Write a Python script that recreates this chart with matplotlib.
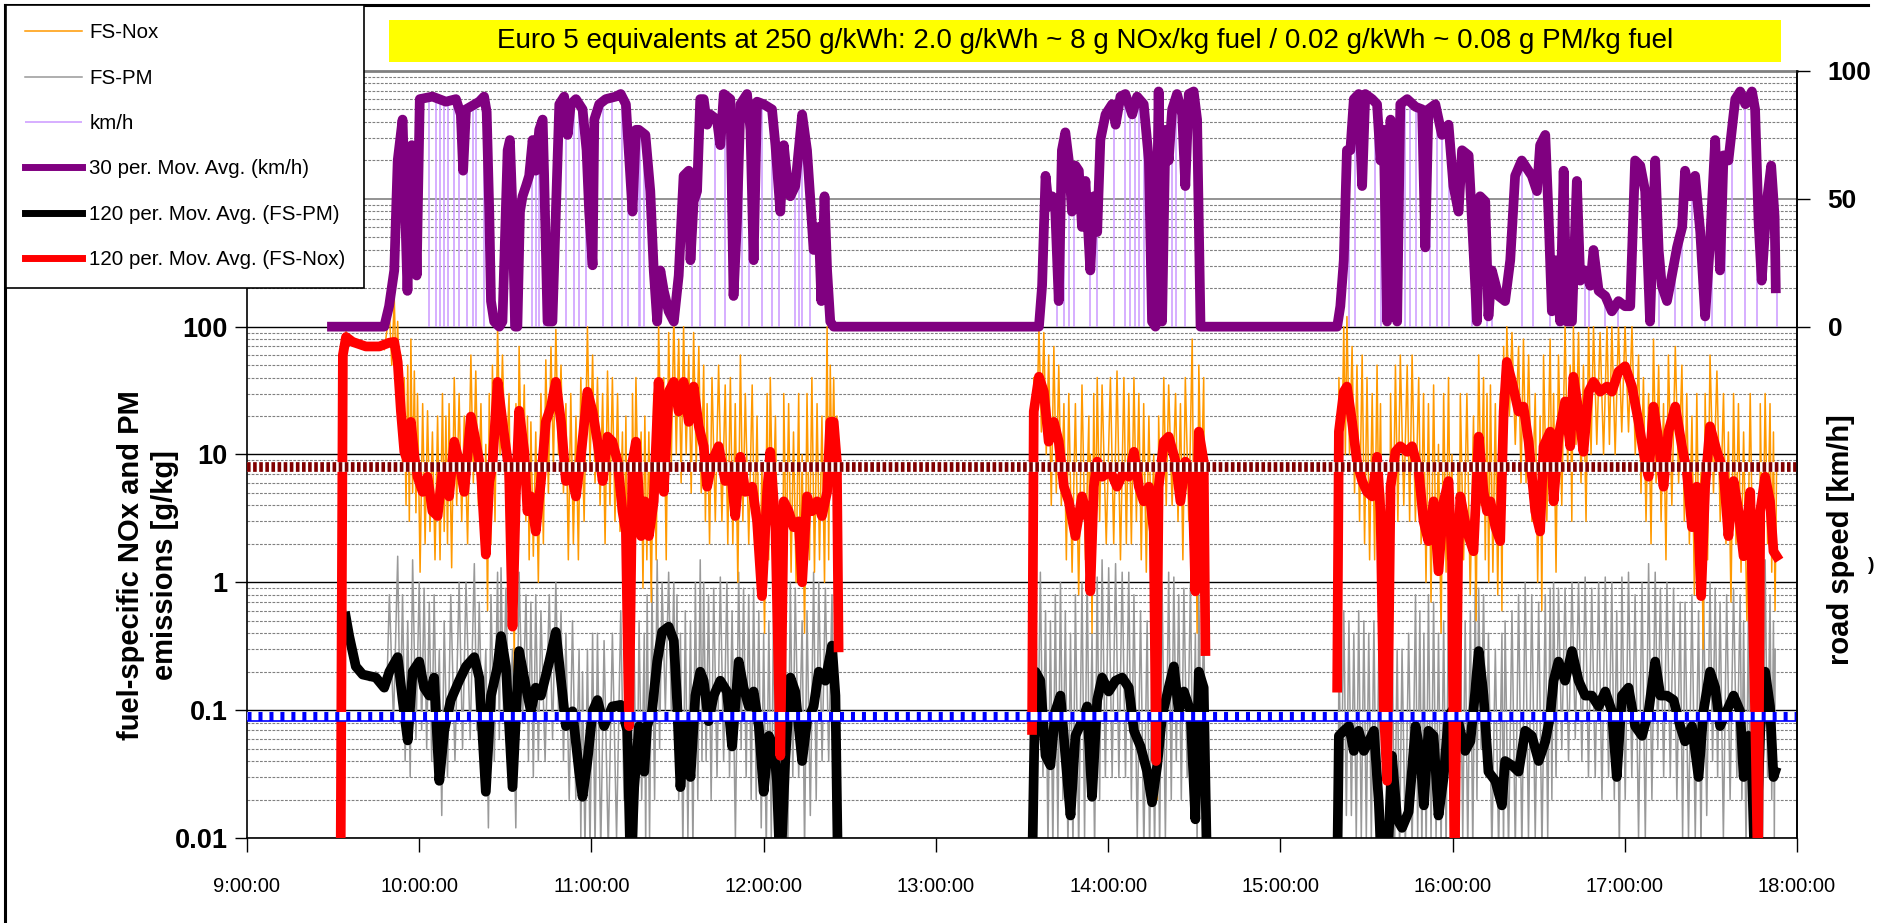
import numpy as np
import matplotlib.pyplot as plt
from matplotlib.ticker import LogLocator, NullFormatter
from matplotlib.patches import Rectangle
from matplotlib.lines import Line2D

plt.rcParams['font.family'] = ['Liberation Sans', 'DejaVu Sans']
plt.rcParams['lines.scale_dashes'] = False

nan = np.nan

# time is minutes after 9:00:00, NaN splits the three trips
# road speed, 30 s moving average [km/h]
t_speed = [
    29.6, 47.8, 49.5, 51.3, 52.5, 54.2, 55.9, 57.4, 58.3, 59.1,
    60.2, 64.6, 69.3, 72.8, 74.5, 75.3, 76.3, 80.9, 82.6, 83.5,
    84.4, 85.0, 86.1, 87.9, 89.0, 90.8, 91.6, 92.5, 93.4, 94.2,
    95.1, 96.0, 97.2, 98.3, 99.5, 100.6, 101.8, 103.0, 103.5, 104.7,
    106.4, 107.6, 108.8, 110.5, 111.7, 112.8, 114.6, 116.9, 118.3, 119.2,
    120.4, 121.0, 122.7, 125.0, 128.5, 130.2, 132.0, 134.3, 135.5, 136.5,
    138.8, 140.5, 141.7, 142.9, 144.0, 145.2, 146.9, 148.7, 150.4, 152.1,
    153.9, 154.5, 155.6, 156.8, 157.9, 159.1, 160.3, 161.4, 163.7, 164.9,
    166.1, 168.4, 169.5, 170.7, 171.9, 174.2, 175.4, 176.5, 177.7, 180.0,
    182.9, 184.1, 185.8, 187.0, 188.1, 189.3, 191.0, 193.4, 195.1, 196.3,
    197.4, 199.2, 200.1, 201.2, 202.1, 203.2, 204.4, 275.9, 277.0, 278.2,
    279.3, 280.5, 281.6, 282.8, 283.9, 285.1, 286.3, 287.4, 288.6, 289.8,
    290.9, 292.1, 293.8, 295.0, 296.2, 297.3, 299.1, 301.4, 302.6, 304.3,
    306.0, 308.4, 310.1, 312.4, 314.2, 315.3, 316.5, 317.6, 318.8, 320.0,
    321.1, 322.3, 324.0, 325.8, 326.9, 328.1, 329.8, 331.0, 332.2, 379.8,
    380.9, 382.1, 383.2, 384.4, 385.6, 387.3, 388.5, 389.6, 392.0, 393.7,
    394.9, 396.0, 397.2, 398.4, 399.5, 400.7, 401.8, 404.2, 407.1, 409.4,
    410.5, 411.6, 414.0, 416.3, 418.6, 420.3, 422.1, 423.3, 425.6, 427.3,
    428.5, 429.6, 431.4, 432.5, 433.7, 436.0, 438.3, 440.1, 441.8, 444.1,
    447.6, 449.4, 450.5, 452.3, 453.4, 454.6, 455.8, 457.5, 458.7, 459.8,
    461.6, 463.3, 464.5, 466.2, 468.0, 469.1, 470.9, 473.2, 475.5, 477.8,
    480.1, 481.9, 483.6, 485.4, 487.1, 488.8, 490.6, 491.8, 492.9, 494.7,
    496.4, 498.2, 500.0, 501.0, 502.8, 504.5, 506.3, 508.0, 509.7, 511.5,
    513.2, 514.4, 516.1, 518.5, 520.2, 522.0, 524.3, 525.4, 526.6, 527.7,
    529.5, 531.0, 532.2, 532.6]
speed_ma = [
    0, 0, 8, 22, 65, 81, 14, 71, 60, 20,
    89, 90, 88, 89, 83, 61, 85, 88, 90, 84,
    45, 10, 2, 0, 2, 69, 73, 45, 0, 0,
    45, 51, 55, 59, 73, 61, 77, 81, 60, 2,
    2, 45, 87, 90, 75, 87, 89, 85, 69, 45,
    24, 81, 87, 89, 90, 91, 87, 45, 77, 77,
    75, 53, 22, 2, 22, 14, 6, 2, 20, 59,
    61, 26, 49, 53, 89, 89, 79, 83, 81, 71,
    91, 89, 12, 41, 87, 91, 77, 26, 88, 87,
    85, 71, 45, 71, 59, 51, 55, 83, 69, 49,
    30, 39, 10, 51, 22, 2, 0, 0, 16, 59,
    47, 51, 45, 10, 69, 76, 65, 45, 63, 61,
    39, 57, 22, 51, 37, 73, 83, 87, 79, 90,
    91, 83, 90, 87, 65, 2, 0, 92, 2, 77,
    65, 85, 91, 83, 55, 91, 92, 81, 0, 0,
    8, 26, 69, 69, 89, 91, 55, 91, 89, 87,
    65, 77, 2, 81, 26, 2, 87, 89, 86, 85,
    31, 85, 87, 75, 79, 55, 45, 69, 67, 30,
    2, 51, 49, 4, 22, 12, 10, 26, 59, 65,
    59, 53, 71, 75, 45, 6, 26, 2, 61, 2,
    2, 57, 18, 22, 16, 30, 14, 12, 6, 10,
    8, 8, 65, 63, 53, 2, 65, 30, 16, 10,
    20, 31, 39, 61, 51, 59, 37, 4, 33, 73,
    22, 67, 65, 89, 92, 87, 92, 85, 41, 18,
    49, 63, 43, 15]

# raw km/h signal: moments where the reading falls to 0
drop_t = [
    63.3, 65.8, 67.2, 68.7, 70.2, 72.2, 73.9, 76.8, 78.6, 79.7,
    82.4, 91.9, 94.8, 99.2, 100.6, 101.8, 103.3, 111.3, 114.0, 115.7,
    118.0, 123.9, 127.3, 130.6, 132.6, 136.6, 137.0, 138.2, 155.0, 157.9,
    163.2, 166.6, 172.5, 174.8, 179.4, 182.9, 185.2, 191.0, 192.2, 193.4,
    196.3, 282.2, 284.6, 286.3, 288.1, 293.8, 296.2, 302.0, 306.0, 307.8,
    309.5, 310.7, 312.4, 322.3, 323.5, 326.9, 383.8, 386.1, 393.1, 394.9,
    403.6, 405.3, 407.1, 409.3, 412.2, 414.5, 416.3, 418.6, 426.7, 432.0,
    433.7, 444.1, 448.2, 454.0, 456.9, 466.2, 467.4, 473.2, 477.8, 488.3,
    491.8, 497.6, 500.0, 503.4, 508.0, 510.3, 514.9, 517.2, 521.9, 526.0,
    533.0]
drop_v = [
    90, 90, 89, 88, 88, 89, 86, 85, 86, 87,
    90, 70, 45, 72, 70, 77, 81, 78, 88, 88,
    80, 88, 90, 90, 88, 77, 76, 75, 40, 89,
    82, 90, 88, 90, 88, 85, 55, 55, 75, 83,
    49, 30, 72, 65, 50, 30, 40, 80, 91, 85,
    88, 90, 87, 85, 90, 60, 69, 89, 88, 65,
    89, 88, 86, 85, 85, 88, 75, 79, 40, 40,
    22, 65, 57, 40, 20, 22, 20, 12, 10, 30,
    30, 25, 39, 55, 20, 60, 67, 80, 88, 60,
    15]

# fuel-specific NOx [g/kg]: 120 s moving average and the raw spike range
t_nox = [
    32.6, 33.4, 34.5, 36.8, 41.4, 46.1, 49.6, 51.3, 52.5, 53.6,
    54.8, 56.0, 57.1, 58.3, 59.4, 61.2, 62.9, 64.6, 66.4, 68.1,
    69.3, 70.4, 72.2, 73.9, 75.7, 78.0, 79.7, 81.5, 83.2, 84.4,
    85.5, 87.3, 89.0, 91.3, 92.5, 93.7, 94.8, 96.6, 97.7, 98.9,
    100.6, 102.4, 104.1, 105.9, 107.6, 109.4, 111.1, 112.8, 114.6, 116.3,
    118.6, 120.4, 122.1, 123.9, 125.6, 127.3, 129.1, 130.8, 132.0, 133.1,
    134.3, 135.5, 137.3, 138.6, 140.0, 141.7, 143.4, 145.2, 146.9, 148.7,
    150.4, 152.1, 153.9, 155.6, 157.4, 159.1, 160.3, 162.0, 164.3, 166.6,
    168.4, 170.1, 171.9, 173.6, 176.0, 177.7, 179.4, 181.2, 182.3, 184.1,
    185.8, 187.0, 188.7, 190.4, 192.2, 193.4, 195.1, 196.8, 198.6, 200.3,
    202.1, 203.2, 204.4, 205.5, 206.1, nan,
    273.5, 274.1, 275.9, 277.6, 279.3, 281.1, 282.8, 284.6, 286.3, 288.6,
    290.9, 293.3, 293.8, 295.0, 296.2, 297.9, 300.8, 303.1, 305.5, 307.2,
    309.0, 310.7, 312.4, 314.2, 315.9, 316.7, 317.6, 319.4, 321.1, 323.5,
    325.2, 326.9, 329.3, 330.4, 331.6, 333.3, 333.9, nan,
    379.8, 380.4, 382.1, 383.2, 385.0, 386.7, 388.5, 390.2, 392.0, 393.7,
    394.9, 396.0, 397.2, 398.4, 400.1, 401.8, 404.2, 405.9, 408.2, 409.9,
    411.6, 413.4, 415.1, 416.9, 418.6, 419.8, 420.7, 421.9, 422.7, 425.0,
    427.3, 429.1, 430.8, 432.0, 433.2, 434.9, 436.6, 437.8, 438.9, 440.7,
    443.0, 444.7, 446.5, 448.8, 450.5, 451.7, 454.0, 455.2, 456.9, 459.2,
    461.0, 462.1, 463.9, 465.6, 467.4, 469.1, 471.4, 473.8, 475.5, 477.8,
    480.1, 482.5, 484.8, 486.5, 488.3, 490.0, 491.8, 493.5, 495.2, 497.6,
    499.9, 501.6, 503.4, 505.1, 506.6, 508.0, 509.7, 512.1, 514.4, 516.1,
    517.9, 519.6, 521.4, 523.7, 525.4, 526.4, 527.2, 528.9, 530.6, 531.8,
    532.9]
nox_ma = [
    0.005, 60, 83, 76, 70, 70, 75, 76, 53, 22,
    10.5, 8.8, 18, 9.7, 6.7, 5.1, 6.7, 3.6, 3.3, 7.4,
    5.6, 4.7, 12.6, 8.8, 5.1, 19.8, 12.6, 7.4, 1.65, 6.1,
    8.1, 37, 18, 7.4, 0.45, 5.1, 22, 10.5, 3.6, 4.7,
    2.5, 6.2, 18, 23.7, 37, 18, 6.2, 7.4, 4.7, 9.6,
    31, 21.7, 12.6, 6.2, 13.8, 12.6, 8.8, 3.6, 2.5, 0.075,
    8.8, 12.6, 2.3, 4.3, 2.3, 4.3, 37, 5.1, 31, 37,
    21.7, 37, 18, 34, 16.6, 11.6, 5.6, 8.8, 11.6, 6.2,
    8.1, 3.3, 9.6, 5.1, 5.6, 3.0, 0.78, 5.1, 10.5, 2.7,
    0.044, 4.3, 3.6, 2.7, 3.0, 1.0, 4.7, 3.6, 4.3, 3.3,
    5.1, 18, 18, 8.8, 0.31, nan,
    0.07, 21.7, 40.6, 31, 12.6, 18, 12.6, 5.6, 4.3, 2.3,
    4.7, 3.0, 0.85, 5.6, 8.8, 6.7, 7.4, 5.6, 7.4, 6.7,
    10.5, 5.6, 4.3, 5.6, 2.5, 0.04, 5.6, 12.6, 13.8, 8.8,
    4.3, 8.8, 7.4, 0.85, 15.1, 8.8, 0.29, nan,
    0.15, 15.1, 31, 34, 18, 8.8, 6.2, 5.1, 4.7, 9.6,
    3.6, 0.11, 0.028, 5.6, 10.5, 11.6, 10.5, 11.6, 7.4, 3.0,
    2.1, 4.3, 1.22, 4.3, 6.2, 1.46, 0.005, 1.46, 4.7, 2.5,
    1.75, 13.8, 5.1, 3.6, 4.3, 2.7, 2.1, 21.7, 53, 37,
    21.7, 23.7, 12.6, 3.6, 2.5, 11.6, 15.1, 4.3, 13.8, 26,
    11.6, 40.6, 21.7, 10.5, 31, 37, 31, 34, 31, 44.5,
    49, 34, 18, 10.5, 6.7, 23.7, 12.6, 5.6, 15.1, 23.7,
    11.6, 7.4, 2.7, 5.6, 0.78, 5.6, 16.6, 10.5, 7.4, 2.3,
    6.2, 3.6, 1.6, 5.1, 0.098, 0.005, 3.6, 6.7, 4.3, 1.75,
    1.6]
nox_hi = [
    0.005, 60, 92, 80, 73, 74, 130, 170, 110, 60,
    40, 50, 80, 45, 30, 25, 22, 15, 20, 30,
    20, 25, 40, 30, 20, 60, 45, 25, 12, 30,
    50, 100, 60, 30, 8, 25, 70, 35, 20, 18,
    15, 30, 55, 70, 95, 50, 25, 30, 20, 40,
    100, 60, 40, 30, 45, 40, 30, 15, 20, 5,
    30, 40, 15, 20, 15, 30, 100, 40, 90, 120,
    80, 100, 60, 90, 70, 50, 25, 40, 50, 35,
    40, 25, 60, 30, 35, 20, 8, 30, 40, 20,
    3, 30, 25, 15, 30, 10, 30, 40, 25, 20,
    100, 50, 40, 20, 0.31, nan,
    0.07, 40, 100, 90, 60, 70, 50, 25, 30, 25,
    35, 20, 10, 30, 40, 35, 40, 45, 40, 30,
    40, 30, 25, 20, 10, 2, 20, 40, 35, 30,
    25, 40, 80, 10, 50, 40, 0.29, nan,
    0.15, 40, 100, 120, 70, 50, 60, 40, 30, 50,
    25, 5, 3, 30, 50, 60, 50, 60, 40, 30,
    25, 35, 12, 30, 40, 10, 0.005, 8, 30, 30,
    20, 60, 40, 30, 35, 25, 30, 70, 100, 90,
    70, 80, 60, 30, 20, 60, 80, 30, 60, 100,
    50, 100, 90, 50, 100, 100, 90, 100, 100, 100,
    100, 100, 60, 40, 30, 80, 50, 25, 60, 70,
    50, 30, 20, 30, 8, 30, 60, 45, 30, 15,
    30, 25, 15, 30, 3, 0.005, 25, 30, 25, 15,
    8]
nox_lo = [
    0.005, 60, 75, 72, 67, 66, 50, 45, 25, 8,
    4, 3, 5, 3.5, 1.2, 2, 2.5, 1.5, 1.5, 2.5,
    2, 1.3, 4, 3, 2, 6, 4, 2, 0.6, 2,
    3, 10, 6, 2, 0.2, 2, 6, 3, 1.5, 1.6,
    1.0, 2, 5, 8, 10, 5, 1.5, 2, 1.5, 3,
    8, 6, 4, 2, 4, 3, 2.5, 1.2, 0.8, 0.05,
    3, 3, 0.9, 1.5, 0.7, 1.5, 10, 1.5, 8, 10,
    6, 10, 5, 8, 5, 3, 2, 3, 3, 2,
    2, 1, 3, 2, 2, 0.8, 0.4, 1.5, 3, 1,
    0.03, 1.5, 1.2, 1, 1, 0.4, 1.5, 1.2, 1.5, 1,
    1.5, 6, 6, 3, 0.31, nan,
    0.07, 10, 15, 10, 4, 5, 4, 1.5, 1.2, 0.8,
    1.5, 1, 0.4, 2, 3, 2, 2, 1.5, 2, 2,
    3, 1.5, 1.2, 2, 1, 0.02, 2, 4, 4, 3,
    1.5, 3, 2, 0.4, 5, 3, 0.29, nan,
    0.15, 5, 10, 10, 5, 3, 2, 1.5, 1.5, 3,
    1.2, 0.05, 0.015, 2, 3, 4, 3, 3, 2, 1,
    0.7, 1.2, 0.4, 1.2, 2, 0.5, 0.005, 0.6, 1.5, 0.8,
    0.5, 4, 1.5, 1, 1.2, 0.8, 0.6, 6, 20, 12,
    6, 6, 3, 1, 0.6, 3, 4, 1.2, 4, 8,
    3, 12, 6, 3, 10, 12, 10, 12, 10, 15,
    15, 10, 5, 3, 2, 6, 3, 1.5, 4, 6,
    3, 2, 0.8, 1.5, 0.3, 1.5, 5, 3, 2, 0.7,
    2, 1.2, 0.5, 1.5, 0.05, 0.005, 1, 2, 1.2, 0.6,
    0.8]

# fuel-specific PM [g/kg]: 120 s moving average and the raw spike range
t_pm = [
    34.4, 35.6, 37.9, 40.3, 44.9, 47.8, 49.6, 52.5, 54.2, 56.0,
    57.7, 60.0, 61.7, 63.5, 65.2, 67.0, 68.7, 71.0, 73.9, 76.3,
    79.2, 80.9, 83.2, 85.0, 87.3, 88.5, 90.2, 92.5, 94.8, 97.2,
    98.9, 100.6, 102.4, 105.3, 107.6, 109.4, 111.1, 113.4, 115.7, 116.9,
    118.6, 120.4, 122.1, 124.4, 127.3, 130.2, 132.5, 133.7, 134.9, 136.6,
    138.4, 139.4, 141.1, 142.9, 144.6, 146.9, 148.7, 149.8, 151.0, 152.7,
    154.5, 156.2, 157.9, 159.1, 160.8, 162.6, 164.9, 167.2, 169.0, 171.3,
    173.0, 174.8, 176.5, 178.3, 180.0, 181.8, 183.5, 184.6, 185.8, 187.5,
    189.3, 191.0, 193.4, 195.1, 197.4, 199.2, 201.5, 203.8, 205.0, 205.9, nan,
    273.5, 274.7, 276.4, 278.2, 279.9, 281.6, 283.4, 285.1, 286.9, 288.6,
    290.9, 292.7, 294.4, 296.2, 297.9, 300.2, 302.6, 304.9, 307.2, 309.0,
    311.3, 313.6, 315.3, 317.1, 318.8, 321.1, 322.9, 324.6, 326.4, 328.7,
    330.4, 331.6, 333.3, 334.5, nan,
    379.8, 380.4, 382.1, 383.9, 385.6, 387.3, 389.1, 390.8, 392.6, 394.3,
    395.4, 397.2, 398.9, 400.7, 402.4, 404.7, 407.1, 408.6, 410.0, 411.6,
    413.4, 415.1, 416.9, 418.6, 420.9, 422.7, 424.4, 426.2, 427.9, 429.1,
    430.8, 432.5, 434.9, 437.2, 438.3, 440.7, 443.0, 445.3, 447.6, 450.0,
    452.3, 454.0, 455.2, 456.9, 459.2, 461.6, 463.9, 466.2, 468.5, 470.9,
    473.2, 475.5, 477.2, 479.0, 481.3, 483.6, 486.0, 488.3, 490.6, 492.4,
    494.7, 497.0, 499.3, 501.0, 503.4, 505.7, 507.4, 509.7, 511.5, 513.2,
    515.5, 517.9, 520.2, 521.4, 523.1, 524.3, 525.4, 527.2, 528.9, 530.6,
    531.8, 532.4]
pm_ma = [
    0.54, 0.38, 0.22, 0.19, 0.18, 0.15, 0.2, 0.26, 0.12, 0.058,
    0.2, 0.24, 0.15, 0.13, 0.18, 0.028, 0.069, 0.12, 0.17, 0.22,
    0.26, 0.18, 0.023, 0.13, 0.22, 0.38, 0.22, 0.025, 0.29, 0.15,
    0.098, 0.15, 0.13, 0.24, 0.41, 0.17, 0.075, 0.098, 0.033, 0.021,
    0.04, 0.098, 0.12, 0.075, 0.107, 0.11, 0.069, 0.005, 0.025, 0.075,
    0.033, 0.075, 0.098, 0.24, 0.41, 0.45, 0.35, 0.12, 0.025, 0.082,
    0.03, 0.13, 0.2, 0.17, 0.082, 0.13, 0.17, 0.14, 0.052, 0.24,
    0.15, 0.107, 0.14, 0.075, 0.023, 0.063, 0.052, 0.028, 0.005, 0.04,
    0.18, 0.14, 0.04, 0.082, 0.107, 0.2, 0.17, 0.32, 0.13, 0.005, nan,
    0.005, 0.2, 0.17, 0.044, 0.037, 0.098, 0.13, 0.044, 0.015, 0.063,
    0.082, 0.107, 0.021, 0.12, 0.18, 0.14, 0.17, 0.18, 0.15, 0.069,
    0.052, 0.033, 0.019, 0.037, 0.09, 0.15, 0.22, 0.098, 0.14, 0.098,
    0.014, 0.2, 0.15, 0.005, nan,
    0.005, 0.063, 0.069, 0.075, 0.048, 0.069, 0.048, 0.057, 0.069, 0.019,
    0.005, 0.005, 0.044, 0.014, 0.012, 0.016, 0.075, 0.048, 0.018, 0.069,
    0.063, 0.015, 0.03, 0.09, 0.107, 0.069, 0.048, 0.057, 0.14, 0.29,
    0.13, 0.033, 0.028, 0.018, 0.04, 0.037, 0.033, 0.069, 0.063, 0.04,
    0.057, 0.09, 0.17, 0.24, 0.17, 0.29, 0.17, 0.13, 0.13, 0.107,
    0.14, 0.098, 0.03, 0.13, 0.15, 0.075, 0.063, 0.098, 0.24, 0.13,
    0.13, 0.12, 0.075, 0.057, 0.075, 0.03, 0.098, 0.2, 0.15, 0.075,
    0.098, 0.13, 0.098, 0.03, 0.063, 0.033, 0.005, 0.069, 0.2, 0.107,
    0.03, 0.033]
pm_hi = [
    0.6, 0.42, 0.25, 0.21, 0.2, 0.17, 0.8, 1.6, 0.8, 0.5,
    1.5, 1.0, 0.9, 0.7, 0.8, 0.3, 0.5, 0.8, 1.0, 1.0,
    1.4, 0.7, 0.3, 0.8, 1.2, 1.3, 0.9, 0.3, 1.2, 0.8,
    0.7, 0.8, 0.6, 0.8, 1.0, 0.6, 0.4, 0.5, 0.3, 0.2,
    0.3, 0.4, 0.4, 0.35, 0.4, 0.6, 0.8, 0.005, 0.3, 0.5,
    0.4, 0.8, 0.9, 1.5, 1.0, 1.2, 1.0, 0.8, 0.4, 0.6,
    0.5, 1.0, 1.5, 1.0, 0.8, 0.9, 1.1, 1.0, 0.6, 1.2,
    0.9, 0.8, 0.9, 0.6, 0.4, 0.5, 0.9, 0.5, 0.005, 0.5,
    1.0, 0.9, 0.5, 0.6, 1.2, 1.0, 0.9, 0.8, 0.5, 0.005, nan,
    0.005, 1.0, 1.2, 0.6, 0.5, 0.8, 1.0, 0.6, 0.4, 0.8,
    1.0, 1.2, 0.4, 1.1, 1.5, 1.3, 1.4, 1.2, 1.2, 0.8,
    0.6, 0.5, 0.3, 0.6, 1.0, 1.2, 1.1, 0.8, 0.9, 1.0,
    0.4, 0.8, 0.5, 0.005, nan,
    0.005, 0.3, 0.6, 0.5, 0.4, 0.6, 0.5, 0.4, 0.5, 0.3,
    0.005, 0.005, 0.5, 0.3, 0.3, 0.4, 0.8, 0.6, 0.4, 0.8,
    0.7, 0.4, 0.5, 0.8, 0.8, 0.6, 0.5, 0.6, 1.0, 0.9,
    0.8, 0.4, 0.3, 0.4, 0.5, 0.6, 0.8, 1.0, 0.8, 0.7,
    0.8, 0.9, 1.0, 0.9, 0.9, 1.0, 1.0, 1.1, 0.9, 1.0,
    1.1, 1.0, 0.6, 1.1, 1.2, 0.8, 1.0, 1.4, 1.2, 0.9,
    1.0, 0.9, 0.7, 0.7, 0.8, 0.6, 1.0, 1.0, 0.9, 0.7,
    0.8, 0.9, 0.8, 0.5, 0.7, 0.5, 0.005, 1.2, 1.5, 0.8,
    0.5, 0.3]
pm_lo = [
    0.5, 0.35, 0.2, 0.17, 0.16, 0.14, 0.08, 0.08, 0.04, 0.03,
    0.06, 0.07, 0.05, 0.04, 0.05, 0.015, 0.03, 0.04, 0.05, 0.06,
    0.07, 0.05, 0.012, 0.04, 0.06, 0.1, 0.06, 0.012, 0.08, 0.04,
    0.03, 0.04, 0.04, 0.06, 0.1, 0.04, 0.02, 0.02, 0.01, 0.008,
    0.008, 0.008, 0.008, 0.008, 0.01, 0.02, 0.01, 0.005, 0.008, 0.02,
    0.008, 0.01, 0.02, 0.05, 0.1, 0.1, 0.08, 0.02, 0.008, 0.01,
    0.008, 0.02, 0.04, 0.04, 0.02, 0.03, 0.04, 0.03, 0.01, 0.05,
    0.03, 0.02, 0.02, 0.012, 0.008, 0.01, 0.01, 0.008, 0.005, 0.008,
    0.03, 0.03, 0.008, 0.015, 0.02, 0.04, 0.04, 0.08, 0.03, 0.005, nan,
    0.005, 0.05, 0.03, 0.008, 0.008, 0.01, 0.02, 0.008, 0.008, 0.008,
    0.01, 0.02, 0.008, 0.02, 0.03, 0.03, 0.03, 0.03, 0.02, 0.01,
    0.008, 0.008, 0.008, 0.008, 0.01, 0.02, 0.04, 0.02, 0.03, 0.02,
    0.008, 0.05, 0.04, 0.005, nan,
    0.005, 0.02, 0.015, 0.015, 0.01, 0.01, 0.01, 0.01, 0.01, 0.008,
    0.005, 0.005, 0.008, 0.008, 0.008, 0.008, 0.01, 0.008, 0.008, 0.01,
    0.01, 0.008, 0.008, 0.01, 0.02, 0.01, 0.008, 0.008, 0.02, 0.05,
    0.03, 0.008, 0.008, 0.008, 0.008, 0.008, 0.008, 0.01, 0.01, 0.008,
    0.01, 0.02, 0.03, 0.05, 0.04, 0.06, 0.04, 0.03, 0.03, 0.02,
    0.03, 0.02, 0.008, 0.02, 0.03, 0.01, 0.01, 0.02, 0.05, 0.03,
    0.03, 0.02, 0.01, 0.01, 0.01, 0.008, 0.015, 0.04, 0.03, 0.01,
    0.02, 0.03, 0.02, 0.008, 0.01, 0.008, 0.005, 0.01, 0.03, 0.02,
    0.01, 0.02]

# Euro 5 equivalents [g/kg fuel]
euro5_nox = 8
euro5_pm = 0.09
hour_ticks = list(range(9, 19))


def hours(t):
    return 9 + np.asarray(t, dtype=float) / 60


def spikes(t, hi, lo):
    # raw signal: each high reading followed by a low one half way to the next sample
    x = hours(t)
    x_lo = x + np.append(np.diff(x), nan) / 2
    return (np.column_stack([x, x_lo]).ravel(),
            np.column_stack([hi, lo]).ravel())


W, H = 1878, 923
fig = plt.figure(figsize=(W / 100, H / 100), dpi=100)
ax = fig.add_axes([247 / W, 1 - 838 / H, 1550 / W, 767 / H])
ax.set_yscale('log')
ax.set_ylim(0.01, 1e4)
ax.set_xlim(9, 18)

# grid
ax.yaxis.set_minor_locator(LogLocator(base=10, subs=np.arange(2, 10), numticks=30))
ax.yaxis.set_minor_formatter(NullFormatter())
ax.grid(which='minor', axis='y', color='#808080', lw=0.8, linestyle=(0, (2, 1)))
for v in [0.01, 0.1, 1, 10, 100]:
    ax.axhline(v, color='black', lw=1, zorder=1)
ax.axhline(1000, color='#808080', lw=1.2, zorder=1)
ax.set_axisbelow(True)

# emissions
h_pm_raw, = ax.plot(*spikes(t_pm, pm_hi, pm_lo), color='#999999', lw=1.1, zorder=2, label='FS-PM')
h_nox_raw, = ax.plot(*spikes(t_nox, nox_hi, nox_lo), color='#FF9900', lw=1.1, zorder=3, label='FS-Nox')
h_pm, = ax.plot(hours(t_pm), pm_ma, color='black', lw=7, zorder=4,
                label='120 per. Mov. Avg. (FS-PM)')
h_nox, = ax.plot(hours(t_nox), nox_ma, color='#FF0000', lw=7, zorder=5,
                 label='120 per. Mov. Avg. (FS-Nox)')

# Euro 5 reference lines
ax.axhline(euro5_nox, color='white', lw=7, zorder=6)
ax.axhline(euro5_nox, color='#800000', lw=7, dashes=(2.6, 1.8), zorder=7)
ax.axhline(euro5_pm, color='white', lw=6.5, zorder=6)
ax.axhline(euro5_pm, color='#0000FF', lw=6.5, dashes=(2.9, 5), zorder=7)
ax.axhline(euro5_pm * 0.92, color='#0000FF', lw=1.2, zorder=7)

ax.set_yticks([0.01, 0.1, 1, 10, 100], ['0.01', '0.1', '1', '10', '100'],
              fontsize=19.5, fontweight='bold')
ax.tick_params(axis='y', which='major', direction='out', length=9, width=1, pad=5)
ax.tick_params(axis='y', which='minor', length=0)
ax.set_xticks(hour_ticks, [f'{h}:00:00' for h in hour_ticks], fontsize=14.5)
ax.tick_params(axis='x', direction='out', length=10, width=1, pad=18)
for s in ['left', 'bottom', 'right']:
    ax.spines[s].set_linewidth(1.2)
ax.spines['top'].set_color('#808080')
ax.spines['top'].set_linewidth(2)

# road speed on the right axis
ax2 = ax.twinx()
ax2.set_ylim(-200, 100)
h_kmh = ax2.vlines(hours(drop_t), 0, drop_v, color='#CC99FF', lw=1.1, label='km/h')
h_speed, = ax2.plot(hours(t_speed), speed_ma, color='#800080', lw=7,
                    label='30 per. Mov. Avg. (km/h)')
ax2.set_yticks([0, 50, 100], ['0', '50', '100'], fontsize=19, fontweight='bold')
ax2.tick_params(axis='y', direction='out', length=9, width=1, pad=13)
for s in ['left', 'top', 'bottom']:
    ax2.spines[s].set_visible(False)
ax2.spines['right'].set_linewidth(1.2)

# axis titles
fig.text(148 / W, 1 - 565 / H, 'fuel-specific NOx and PM\nemissions [g/kg]', rotation=90,
         ha='center', va='center', fontsize=21, fontweight='bold', linespacing=1.3)
fig.text(1841 / W, 1 - 540 / H, 'road speed [km/h]', rotation=90,
         ha='center', va='center', fontsize=21, fontweight='bold')
fig.text(1871 / W, 1 - 566 / H, ')', ha='center', va='center', fontsize=14, fontweight='bold')

# yellow headline
fig.add_artist(Rectangle((389 / W, 1 - 62 / H), 1392 / W, 42 / H, transform=fig.transFigure,
                         facecolor='#FFFF00', edgecolor='none'))
fig.text(1085 / W, 1 - 41 / H,
         'Euro 5 equivalents at 250 g/kWh: 2.0 g/kWh ~ 8 g NOx/kg fuel / '
         '0.02 g/kWh ~ 0.08 g PM/kg fuel',
         ha='center', va='center', fontsize=20)

# chart frame
fig.add_artist(Line2D([5 / W, 1868 / W], [1 - 5 / H, 1 - 5 / H], color='black', lw=2.2,
                      transform=fig.transFigure))
fig.add_artist(Line2D([5 / W, 5 / W], [0, 1 - 5 / H], color='black', lw=2.2,
                      transform=fig.transFigure))

leg = fig.legend([h_nox_raw, h_pm_raw, h_kmh, h_speed, h_pm, h_nox],
                 ['FS-Nox', 'FS-PM', 'km/h', '30 per. Mov. Avg. (km/h)',
                  '120 per. Mov. Avg. (FS-PM)', '120 per. Mov. Avg. (FS-Nox)'],
                 loc='upper left', bbox_to_anchor=(6 / W, 1 - 5 / H), frameon=True,
                 fancybox=False, edgecolor='black', framealpha=1, fontsize=14.8,
                 handlelength=2.8, handletextpad=0.35, labelspacing=1.28,
                 borderpad=0.9, borderaxespad=0)
leg.get_frame().set_linewidth(1.2)
for line in leg.get_lines():
    if line.get_linewidth() > 5:
        line.set_linewidth(5)

fig.savefig('out.png', dpi=100)
